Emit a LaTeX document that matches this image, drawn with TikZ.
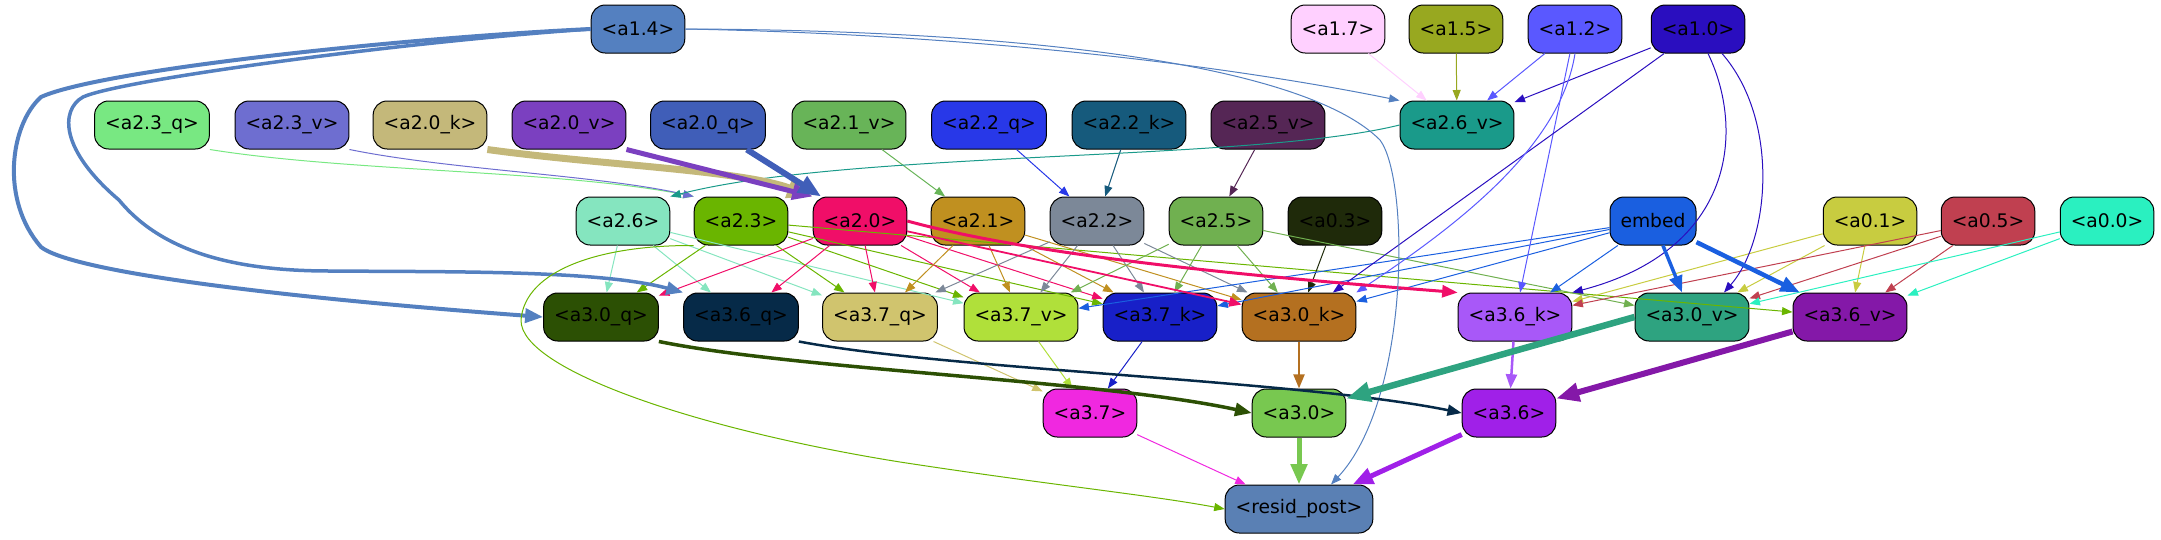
\documentclass[tikz,border=0pt]{standalone}
\usepackage{fontspec}
\setmainfont{DejaVu Sans}
\usetikzlibrary{arrows.meta}

\definecolor{c14}{HTML}{5480C0}
\definecolor{c17}{HTML}{FFD0FF}
\definecolor{c15}{HTML}{98A820}
\definecolor{c12}{HTML}{5A58FF}
\definecolor{c10}{HTML}{2A0EBF}
\definecolor{c23q}{HTML}{78E882}
\definecolor{c23v}{HTML}{6E6ED0}
\definecolor{c20k}{HTML}{C4B87A}
\definecolor{c20v}{HTML}{7B40C0}
\definecolor{c20q}{HTML}{405EB8}
\definecolor{c21v}{HTML}{68B458}
\definecolor{c22q}{HTML}{2838E8}
\definecolor{c22k}{HTML}{165A7C}
\definecolor{c25v}{HTML}{552655}
\definecolor{c26v}{HTML}{1A9A8A}
\definecolor{c26}{HTML}{85E5BF}
\definecolor{c23}{HTML}{6AB500}
\definecolor{c20}{HTML}{F00E68}
\definecolor{c21}{HTML}{C09020}
\definecolor{c22}{HTML}{7C8898}
\definecolor{c25}{HTML}{70B050}
\definecolor{c03}{HTML}{1F2A0A}
\definecolor{cem}{HTML}{1A5FE0}
\definecolor{c01}{HTML}{C8CC40}
\definecolor{c05}{HTML}{C04050}
\definecolor{c00}{HTML}{2AF0C0}
\definecolor{c30q}{HTML}{2C5004}
\definecolor{c36q}{HTML}{062A48}
\definecolor{c37q}{HTML}{D0C46E}
\definecolor{c37v}{HTML}{B0E03A}
\definecolor{c37k}{HTML}{1820C8}
\definecolor{c30k}{HTML}{B47020}
\definecolor{c36k}{HTML}{A858F8}
\definecolor{c30v}{HTML}{2EA380}
\definecolor{c36v}{HTML}{8418A8}
\definecolor{c37}{HTML}{F028E0}
\definecolor{c30}{HTML}{78C850}
\definecolor{c36}{HTML}{A020E8}
\definecolor{cres}{HTML}{5A80B4}

\tikzset{
  box/.style={draw=black, line width=1pt, rounded corners=14pt, minimum height=48pt,
    inner xsep=10.5pt, inner ysep=0pt, font=\fontsize{18.7}{22}\selectfont},
  wire/.style={-{Triangle[length=8pt 2.5,width=6pt 2]}, line width=1pt},
}

\begin{document}
\begin{tikzpicture}[x=1pt, y=-1pt]
  \useasboundingbox (0,0) rectangle (2161,539);
  % row 1
  \node[box,fill=c14] (a14) at (638,29) {<a1.4>};
  \node[box,fill=c17] (a17) at (1338,29) {<a1.7>};
  \node[box,fill=c15] (a15) at (1456,29) {<a1.5>};
  \node[box,fill=c12] (a12) at (1575,29) {<a1.2>};
  \node[box,fill=c10] (a10) at (1698,29) {<a1.0>};
  % row 2
  \node[box,fill=c23q] (a23q) at (152,125) {<a2.3\_q>};
  \node[box,fill=c23v] (a23v) at (292,125) {<a2.3\_v>};
  \node[box,fill=c20k] (a20k) at (430,125) {<a2.0\_k>};
  \node[box,fill=c20v] (a20v) at (569,125) {<a2.0\_v>};
  \node[box,fill=c20q] (a20q) at (708,125) {<a2.0\_q>};
  \node[box,fill=c21v] (a21v) at (849,125) {<a2.1\_v>};
  \node[box,fill=c22q] (a22q) at (989,125) {<a2.2\_q>};
  \node[box,fill=c22k] (a22k) at (1129,125) {<a2.2\_k>};
  \node[box,fill=c25v] (a25v) at (1268,125) {<a2.5\_v>};
  \node[box,fill=c26v] (a26v) at (1457,125) {<a2.6\_v>};
  % row 3
  \node[box,fill=c26] (a26) at (623,221) {<a2.6>};
  \node[box,fill=c23] (a23) at (741,221) {<a2.3>};
  \node[box,fill=c20] (a20) at (860,221) {<a2.0>};
  \node[box,fill=c21] (a21) at (978,221) {<a2.1>};
  \node[box,fill=c22] (a22) at (1097,221) {<a2.2>};
  \node[box,fill=c25] (a25) at (1216,221) {<a2.5>};
  \node[box,fill=c03] (a03) at (1335,221) {<a0.3>};
  \node[box,fill=cem] (embed) at (1653,221) {embed};
  \node[box,fill=c01] (a01) at (1870,221) {<a0.1>};
  \node[box,fill=c05] (a05) at (1988,221) {<a0.5>};
  \node[box,fill=c00] (a00) at (2107,221) {<a0.0>};
  % row 4
  \node[box,fill=c30q] (a30q) at (601,317) {<a3.0\_q>};
  \node[box,fill=c36q] (a36q) at (741,317) {<a3.6\_q>};
  \node[box,fill=c37q] (a37q) at (880,317) {<a3.7\_q>};
  \node[box,fill=c37v] (a37v) at (1021,317) {<a3.7\_v>};
  \node[box,fill=c37k] (a37k) at (1160,317) {<a3.7\_k>};
  \node[box,fill=c30k] (a30k) at (1299,317) {<a3.0\_k>};
  \node[box,fill=c36k] (a36k) at (1515,317) {<a3.6\_k>};
  \node[box,fill=c30v] (a30v) at (1692,317) {<a3.0\_v>};
  \node[box,fill=c36v] (a36v) at (1850,317) {<a3.6\_v>};
  % row 5 and output
  \node[box,fill=c37] (a37) at (1090,413) {<a3.7>};
  \node[box,fill=c30] (a30) at (1299,413) {<a3.0>};
  \node[box,fill=c36] (a36) at (1509,413) {<a3.6>};
  \node[box,fill=cres] (resid) at (1299,509) {<resid\_post>};

  % thin straight edges
  \foreach \s/\t/\c in {a17/a26v/c17, a15/a26v/c15, a12/a26v/c12, a10/a26v/c10,
      a21v/a21/c21v, a22q/a22/c22q, a22k/a22/c22k, a25v/a25/c25v,
      a26/a30q/c26, a26/a36q/c26, a26/a37q/c26, a26/a37v/c26,
      a23/a30q/c23, a23/a37q/c23, a23/a37v/c23, a23/a37k/c23, a23/a36v/c23,
      a20/a30q/c20, a20/a36q/c20, a20/a37q/c20, a20/a37v/c20, a20/a37k/c20,
      a21/a37q/c21, a21/a37v/c21, a21/a37k/c21, a21/a30k/c21,
      a22/a37q/c22, a22/a37v/c22, a22/a37k/c22, a22/a30k/c22,
      a25/a37v/c25, a25/a37k/c25, a25/a30k/c25, a25/a30v/c25,
      a03/a30k/c03,
      embed/a37v/cem, embed/a37k/cem, embed/a30k/cem, embed/a36k/cem,
      a01/a36k/c01, a01/a30v/c01, a01/a36v/c01,
      a05/a36k/c05, a05/a30v/c05, a05/a36v/c05,
      a00/a30v/c00, a00/a36v/c00,
      a12/a36k/c12, a10/a30k/c10,
      a37q/a37/c37q, a37v/a37/c37v, a37k/a37/c37k, a37/resid/c37}
    \draw[wire,\c] (\s) -- (\t);
  \draw[wire,c12] (a12.south) .. controls (1560,150) and (1450,230) .. (a30k.north east);
  \draw[wire,c10] ([xshift=10pt]a10.south) .. controls (1745,130) and (1735,250) .. (a36k.north east);
  \draw[wire,c10] ([xshift=24pt]a10.south) .. controls (1780,120) and (1770,240) .. ([xshift=32pt]a30v.north);

  % curved inputs of row 2 and 3
  \draw[wire,c14] (a14.east) .. controls (1000,35) and (1250,70) .. (a26v.north west);
  \draw[wire,c23q] (a23q.south east) .. controls (350,172) and (560,170) .. (a23.north west);
  \draw[wire,c23v] (a23v.south east) .. controls (450,170) and (600,175) .. (a23.north west);
  \draw[wire,c26v] (a26v.west) .. controls (1250,162) and (850,150) .. (a26.north east);
  \draw[wire,c20k,line width=7pt] (a20k.south east) .. controls (600,165) and (740,170) .. (a20.north west);
  \draw[wire,c20v,line width=5pt] (a20v.south east) -- (a20.north west);
  \draw[wire,c20q,line width=6pt] (a20q) -- (a20);

  % thick edges into row 4
  \draw[wire,c20,line width=3pt] (a20.east) .. controls (1050,260) and (1300,280) .. (a36k.north west);
  \draw[wire,c20,line width=1.8pt] (a20) -- (a30k);
  \draw[wire,cem,line width=3.5pt] (embed) -- (a30v);
  \draw[wire,cem,line width=4.5pt] (embed) -- (a36v);

  % long edges from a1.4 and a2.3
  \draw[wire,c14,line width=4pt] (a14.west) .. controls (400,38) and (100,70) .. (41,97)
    .. controls (10,125) and (0,200) .. (41,247) .. controls (70,270) and (250,295) .. (a30q.west);
  \draw[wire,c14,line width=3.5pt] (a14.west) .. controls (400,42) and (120,80) .. (83,97)
    .. controls (60,110) and (60,150) .. (119,200) .. controls (160,250) and (230,271) .. (330,271)
    .. controls (450,272) and (600,270) .. (a36q.north west);
  \draw[wire,c14] (a14.east) .. controls (1000,30) and (1300,60) .. (1380,140)
    .. controls (1410,180) and (1410,400) .. ([xshift=32pt]resid.north);
  \draw[wire,c23] (a23.south west) .. controls (600,245) and (525,270) .. (521,320)
    .. controls (520,370) and (700,430) .. (900,462) .. controls (1050,485) and (1150,495) .. (resid.west);

  % row 4 to row 5, row 5 to output
  \draw[wire,c30q,line width=3.5pt] (a30q.south east) .. controls (800,370) and (1100,380) .. (a30.west);
  \draw[wire,c36q,line width=2.5pt] (a36q.south east) .. controls (950,370) and (1300,380) .. (a36.west);
  \draw[wire,c30k,line width=2.5pt] (a30k) -- (a30);
  \draw[wire,c36k,line width=2.5pt] (a36k) -- (a36);
  \draw[wire,c30v,line width=6.5pt] (a30v.west) -- ([yshift=-10pt]a30.north east);
  \draw[wire,c36v,line width=6pt] ([yshift=10pt]a36v.south west) -- ([yshift=-10pt]a36.north east);
  \draw[wire,c30,line width=5pt] (a30) -- (resid);
  \draw[wire,c36,line width=5pt] (a36) -- (resid);
\end{tikzpicture}
\end{document}
